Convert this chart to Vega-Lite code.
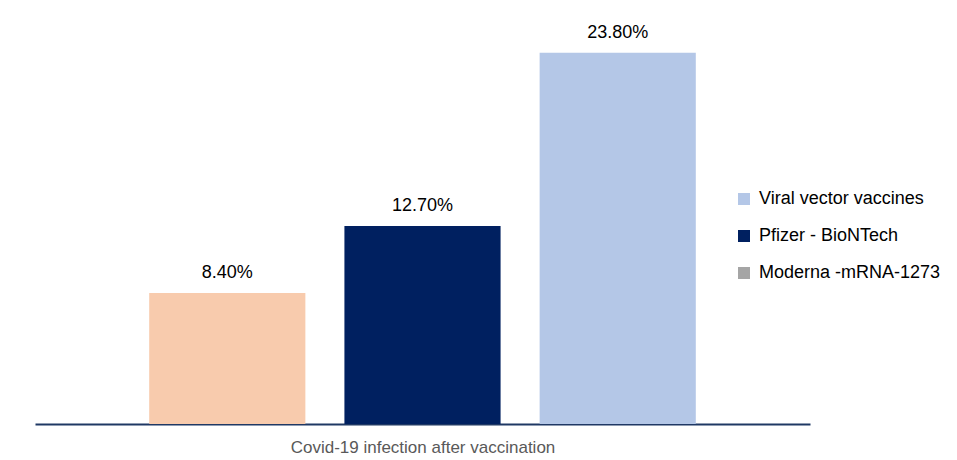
{
  "$schema": "https://vega.github.io/schema/vega-lite/v6.json",
  "width": 775,
  "height": 390,
  "autosize": {"type": "none"},
  "padding": {"left": 35, "top": 34, "right": 147, "bottom": 36},
  "background": "white",
  "data": {
    "values": [
      {"Vaccine": "Moderna -mRNA-1273", "Rate": 8.4, "Label": "8.40%"},
      {"Vaccine": "Pfizer - BioNTech", "Rate": 12.7, "Label": "12.70%"},
      {"Vaccine": "Viral vector vaccines", "Rate": 23.8, "Label": "23.80%"}
    ]
  },
  "encoding": {
    "x": {
      "field": "Vaccine",
      "type": "nominal",
      "sort": ["Moderna -mRNA-1273", "Pfizer - BioNTech", "Viral vector vaccines"],
      "scale": {"paddingInner": 0.2, "paddingOuter": 0.585},
      "axis": {
        "title": "Covid-19 infection after vaccination",
        "labels": false,
        "ticks": false,
        "domainColor": "#1F3864",
        "domainWidth": 2,
        "titleFont": "Liberation Sans",
        "titleFontSize": 17,
        "titleFontWeight": "normal",
        "titleColor": "#595959",
        "titlePadding": 15
      }
    }
  },
  "layer": [
    {
      "mark": {"type": "bar"},
      "encoding": {
        "y": {"datum": 0, "type": "quantitative", "scale": {"domain": [0, 25], "nice": false, "zero": true}, "axis": null},
        "color": {
          "field": "Vaccine",
          "type": "nominal",
          "scale": {
            "domain": ["Viral vector vaccines", "Pfizer - BioNTech", "Moderna -mRNA-1273"],
            "range": ["#B4C7E7", "#002060", "#A5A5A5"]
          },
          "legend": {
            "title": null,
            "orient": "none",
            "legendX": 700,
            "legendY": 156,
            "symbolType": "square",
            "symbolSize": 144,
            "symbolStrokeWidth": 0,
            "labelFont": "Liberation Sans",
            "labelFontSize": 18,
            "labelColor": "#000000",
            "labelOffset": 6,
            "rowPadding": 19,
            "labelLimit": 300
          }
        }
      }
    },
    {
      "mark": {"type": "bar"},
      "encoding": {
        "y": {"field": "Rate", "type": "quantitative", "scale": {"domain": [0, 25], "nice": false}, "axis": null},
        "color": {
          "field": "Vaccine",
          "type": "nominal",
          "scale": {
            "domain": ["Viral vector vaccines", "Pfizer - BioNTech", "Moderna -mRNA-1273"],
            "range": ["#B4C7E7", "#002060", "#F8CBAD"]
          },
          "legend": null
        }
      }
    },
    {
      "mark": {"type": "text", "baseline": "alphabetic", "dy": -15, "font": "Liberation Sans", "fontSize": 18, "color": "#000000"},
      "encoding": {
        "y": {"field": "Rate", "type": "quantitative", "scale": {"domain": [0, 25], "nice": false}, "axis": null},
        "text": {"field": "Label"}
      }
    }
  ],
  "resolve": {"scale": {"color": "independent"}, "legend": {"color": "independent"}},
  "config": {"view": {"stroke": null}}
}
